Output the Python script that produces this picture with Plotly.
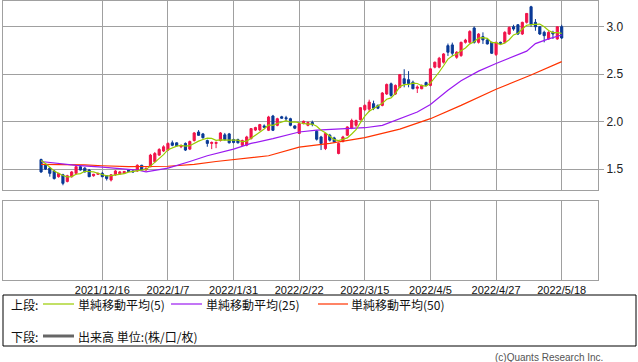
import plotly.graph_objects as go

# ---------------- data ----------------
opens = [1.60, 1.54, 1.51, 1.48, 1.42, 1.44, 1.37, 1.42, 1.455, 1.525,
         1.51, 1.49, 1.43, 1.445, 1.455, 1.43, 1.385, 1.44, 1.45, 1.455,
         1.49, 1.48, 1.48, 1.54, 1.49, 1.524, 1.577, 1.647, 1.69, 1.70,
         1.776, 1.776, 1.735, 1.77, 1.71, 1.80, 1.89, 1.87, 1.80, 1.77,
         1.77, 1.80, 1.86, 1.87, 1.81, 1.81, 1.75, 1.751, 1.821, 1.91,
         1.912, 1.954, 1.908, 2.058, 1.96, 2.05, 2.04, 2.03, 1.954, 1.874,
         1.978, 1.96, 1.99, 1.898, 1.838, 1.716, 1.856, 1.828, 1.664, 1.79,
         1.856, 1.93, 1.96, 2.02, 2.125, 2.13, 2.188, 2.17, 2.17, 2.29,
         2.397, 2.29, 2.36, 2.45, 2.44, 2.414, 2.35, 2.345, 2.41, 2.38,
         2.572, 2.572, 2.624, 2.798, 2.806, 2.676, 2.694, 2.833, 2.833, 2.984,
         2.833, 2.893, 2.858, 2.833, 2.704, 2.833, 2.833, 2.921, 2.997, 3.018,
         2.921, 3.043, 3.207, 3.043, 2.997, 2.938, 2.868, 2.938, 2.868, 2.997]
highs = [1.61, 1.55, 1.52, 1.49, 1.46, 1.45, 1.44, 1.48, 1.53, 1.535,
         1.52, 1.50, 1.45, 1.46, 1.47, 1.435, 1.445, 1.49, 1.48, 1.48,
         1.50, 1.49, 1.55, 1.545, 1.515, 1.66, 1.68, 1.72, 1.75, 1.78,
         1.80, 1.78, 1.76, 1.78, 1.80, 1.89, 1.91, 1.88, 1.81, 1.79,
         1.79, 1.89, 1.88, 1.88, 1.82, 1.82, 1.81, 1.85, 1.93, 1.945,
         1.975, 1.97, 2.06, 2.07, 2.04, 2.06, 2.06, 2.04, 1.96, 1.99,
         2.01, 2.00, 2.01, 1.91, 1.85, 1.88, 1.87, 1.84, 1.78, 1.85,
         1.95, 2.03, 2.02, 2.15, 2.18, 2.23, 2.22, 2.18, 2.31, 2.40,
         2.41, 2.39, 2.50, 2.55, 2.53, 2.43, 2.38, 2.39, 2.42, 2.56,
         2.63, 2.68, 2.72, 2.82, 2.83, 2.74, 2.84, 2.87, 2.96, 3.00,
         2.93, 2.938, 2.87, 2.84, 2.84, 2.84, 2.95, 3.00, 3.018, 3.025,
         3.05, 3.14, 3.217, 3.078, 3.00, 2.955, 2.95, 2.955, 3.00, 3.018]
lows = [1.46, 1.49, 1.42, 1.39, 1.41, 1.33, 1.36, 1.41, 1.44, 1.485,
        1.465, 1.415, 1.42, 1.44, 1.415, 1.38, 1.37, 1.43, 1.44, 1.45,
        1.47, 1.465, 1.47, 1.48, 1.485, 1.52, 1.57, 1.64, 1.68, 1.69,
        1.74, 1.74, 1.72, 1.69, 1.70, 1.79, 1.85, 1.82, 1.735, 1.71,
        1.72, 1.79, 1.80, 1.77, 1.77, 1.77, 1.74, 1.74, 1.81, 1.90,
        1.90, 1.93, 1.90, 1.90, 1.95, 2.03, 2.01, 1.95, 1.92, 1.87,
        1.97, 1.95, 1.95, 1.80, 1.70, 1.70, 1.79, 1.78, 1.655, 1.78,
        1.85, 1.92, 1.94, 2.01, 2.11, 2.10, 2.12, 2.13, 2.16, 2.28,
        2.26, 2.28, 2.35, 2.36, 2.36, 2.34, 2.30, 2.34, 2.37, 2.37,
        2.56, 2.56, 2.61, 2.69, 2.69, 2.66, 2.68, 2.82, 2.82, 2.82,
        2.82, 2.816, 2.81, 2.71, 2.69, 2.81, 2.82, 2.91, 2.955, 2.91,
        2.91, 3.03, 2.997, 2.955, 2.91, 2.833, 2.86, 2.868, 2.86, 2.868]
closes = [1.47, 1.50, 1.455, 1.40, 1.455, 1.35, 1.43, 1.47, 1.525, 1.49,
          1.47, 1.42, 1.445, 1.455, 1.42, 1.40, 1.44, 1.48, 1.47, 1.475,
          1.475, 1.47, 1.54, 1.49, 1.51, 1.647, 1.664, 1.706, 1.734, 1.77,
          1.75, 1.745, 1.745, 1.70, 1.79, 1.88, 1.855, 1.83, 1.77, 1.78,
          1.78, 1.88, 1.81, 1.776, 1.78, 1.776, 1.80, 1.838, 1.926, 1.937,
          1.968, 1.94, 2.048, 1.908, 2.03, 2.035, 2.03, 1.96, 1.93, 1.978,
          2.003, 1.99, 1.97, 1.814, 1.769, 1.874, 1.804, 1.786, 1.769, 1.838,
          1.943, 2.01, 2.01, 2.146, 2.17, 2.205, 2.14, 2.14, 2.30, 2.39,
          2.275, 2.38, 2.495, 2.40, 2.40, 2.345, 2.362, 2.38, 2.38, 2.554,
          2.624, 2.666, 2.711, 2.729, 2.718, 2.729, 2.833, 2.857, 2.948, 2.833,
          2.92, 2.858, 2.816, 2.718, 2.833, 2.823, 2.938, 2.99, 2.973, 2.921,
          3.043, 3.137, 3.025, 2.997, 2.921, 2.903, 2.938, 2.921, 2.997, 2.879]

ma5 = [1.59, 1.56, 1.52, 1.48, 1.456, 1.432, 1.418, 1.421, 1.446, 1.453,
       1.477, 1.475, 1.47, 1.456, 1.442, 1.428, 1.432, 1.439, 1.442, 1.453,
       1.468, 1.474, 1.486, 1.49, 1.497, 1.531, 1.57, 1.603, 1.652, 1.704,
       1.725, 1.741, 1.749, 1.742, 1.746, 1.772, 1.794, 1.811, 1.825, 1.823,
       1.803, 1.808, 1.804, 1.805, 1.805, 1.804, 1.788, 1.794, 1.824, 1.855,
       1.894, 1.922, 1.964, 1.96, 1.979, 1.992, 2.01, 1.993, 1.997, 1.987,
       1.98, 1.972, 1.974, 1.951, 1.909, 1.883, 1.846, 1.809, 1.80, 1.814,
       1.828, 1.869, 1.914, 1.989, 2.056, 2.108, 2.134, 2.16, 2.191, 2.235,
       2.249, 2.297, 2.368, 2.388, 2.39, 2.404, 2.40, 2.377, 2.373, 2.404,
       2.46, 2.521, 2.587, 2.657, 2.69, 2.711, 2.744, 2.773, 2.817, 2.84,
       2.878, 2.883, 2.875, 2.829, 2.829, 2.81, 2.826, 2.86, 2.911, 2.929,
       2.973, 3.013, 3.02, 3.025, 3.025, 2.997, 2.957, 2.936, 2.936, 2.928]

ma25_pos = [0, 4, 8, 14, 18, 22, 24, 27, 29, 34, 38, 44, 48, 53, 59, 63, 70,
            74, 78, 82, 86, 89, 93, 96, 100, 104, 108, 111, 113, 116, 119]
ma25_val = [1.58, 1.56, 1.54, 1.52, 1.505, 1.49, 1.47, 1.49, 1.51, 1.58, 1.64,
            1.71, 1.77, 1.82, 1.89, 1.91, 1.925, 1.935, 1.96, 2.03, 2.10, 2.18,
            2.33, 2.43, 2.53, 2.61, 2.68, 2.74, 2.82, 2.87, 2.91]

ma50_pos = [0, 10, 14, 20, 29, 35, 40, 44, 52, 59, 66, 74, 82, 89, 96, 104, 112, 119]
ma50_val = [1.55, 1.545, 1.535, 1.525, 1.53, 1.55, 1.58, 1.60, 1.64, 1.73,
            1.77, 1.83, 1.92, 2.03, 2.17, 2.34, 2.49, 2.63]

tick_pos = [14, 29, 44, 59, 74, 89, 104, 119]
tick_labels = ["2021/12/16", "2022/1/7", "2022/1/31", "2022/2/22",
               "2022/3/15", "2022/4/5", "2022/4/27", "2022/5/18"]
price_ticks = [1.5, 2.0, 2.5, 3.0]
price_tick_labels = ["1.5", "2.0", "2.5", "3.0"]

# ---------------- styling ----------------
W, H = 638, 362
RED = "#F0144A"
BLUE = "#0A3A96"
C5 = "#99CC00"
C25 = "#9B1AF0"
C50 = "#FF3300"
GRID = "#A0A0A0"
JP = "Noto Sans CJK JP"
LAT = "Liberation Sans, Arial, sans-serif"


def fx(p):
    return p / W


def fy(p):
    return 1 - p / H


idx = list(range(len(closes)))

fig = go.Figure()
fig.add_trace(go.Candlestick(
    x=idx, open=opens, high=highs, low=lows, close=closes,
    increasing=dict(line=dict(color=RED, width=1), fillcolor=RED),
    decreasing=dict(line=dict(color=BLUE, width=1), fillcolor=BLUE),
    whiskerwidth=0, showlegend=False, hoverinfo="skip",
    xaxis="x", yaxis="y"))
fig.add_trace(go.Scatter(x=ma50_pos, y=ma50_val, mode="lines",
                         line=dict(color=C50, width=1.2), showlegend=False,
                         hoverinfo="skip", xaxis="x", yaxis="y"))
fig.add_trace(go.Scatter(x=ma25_pos, y=ma25_val, mode="lines",
                         line=dict(color=C25, width=1.2), showlegend=False,
                         hoverinfo="skip", xaxis="x", yaxis="y"))
fig.add_trace(go.Scatter(x=idx, y=ma5, mode="lines",
                         line=dict(color=C5, width=1.2), showlegend=False,
                         hoverinfo="skip", xaxis="x", yaxis="y"))
# empty lower (volume) panel
fig.add_trace(go.Scatter(x=[None], y=[None], mode="lines", showlegend=False,
                         hoverinfo="skip", xaxis="x2", yaxis="y2"))

xr = [-8.7, 127.3]
common_x = dict(range=xr, tickvals=tick_pos, showgrid=True, gridcolor=GRID,
                gridwidth=1, showline=True, mirror=True, linecolor=GRID,
                linewidth=1, zeroline=False, fixedrange=True)

shapes = [
    dict(type="rect", xref="paper", yref="paper", x0=fx(3), x1=fx(636),
         y0=fy(346), y1=fy(295), line=dict(color="#000000", width=1)),
    dict(type="line", xref="paper", yref="paper", x0=fx(43), x1=fx(74),
         y0=fy(304), y1=fy(304), line=dict(color=C5, width=1.2)),
    dict(type="line", xref="paper", yref="paper", x0=fx(171), x1=fx(202),
         y0=fy(304), y1=fy(304), line=dict(color=C25, width=1.2)),
    dict(type="line", xref="paper", yref="paper", x0=fx(318), x1=fx(348),
         y0=fy(304), y1=fy(304), line=dict(color=C50, width=1.2)),
    dict(type="line", xref="paper", yref="paper", x0=fx(43), x1=fx(74),
         y0=fy(336), y1=fy(336), line=dict(color="#666666", width=3)),
]


def label(text, x, y, anchor="left", size=12, color="#111111", family=JP):
    return dict(text=text, xref="paper", yref="paper", x=fx(x), y=fy(y),
                xanchor=anchor, yanchor="middle", showarrow=False,
                borderpad=0,
                font=dict(family=family, size=size, color=color))


annotations = [
    label("上段:", 10, 304),
    label("単純移動平均(5)", 77, 304),
    label("単純移動平均(25)", 205, 304),
    label("単純移動平均(50)", 350, 304),
    label("下段:", 10, 336),
    label("出来高 単位:(株/口/枚)", 77, 336),
    label("(c)Quants Research Inc.", 604, 357, anchor="right", size=10,
          color="#555555", family=LAT),
]

fig.update_layout(
    width=W, height=H, margin=dict(l=0, r=0, t=0, b=0),
    paper_bgcolor="white", plot_bgcolor="white",
    showlegend=False, hovermode=False,
    font=dict(family=LAT, size=12, color="#222222"),
    xaxis=dict(domain=[fx(3), fx(598)], anchor="y", showticklabels=False,
               rangeslider=dict(visible=False), **common_x),
    yaxis=dict(domain=[fy(190), fy(0.5)], anchor="x", range=[1.28, 3.273],
               side="right", tickvals=price_ticks, ticktext=price_tick_labels,
               ticks="outside", ticklen=5, tickcolor=GRID,
               showgrid=True, gridcolor=GRID, showline=True, mirror=True,
               linecolor=GRID, zeroline=False, fixedrange=True,
               tickfont=dict(family=LAT, size=12, color="#222222")),
    xaxis2=dict(domain=[fx(3), fx(598)], anchor="y2", ticktext=tick_labels,
                showticklabels=True, ticks="",
                tickfont=dict(family=LAT, size=11, color="#111111"),
                **common_x),
    yaxis2=dict(domain=[fy(280), fy(201)], anchor="x2", range=[0, 1],
                showticklabels=False, showgrid=False, showline=True,
                mirror=True, linecolor=GRID, zeroline=False, fixedrange=True),
    shapes=shapes, annotations=annotations,
)

fig.write_html("out.html",
               config={"displayModeBar": False, "staticPlot": True},
               post_script="document.body.style.margin='0';"
                           "document.body.style.padding='0';")
